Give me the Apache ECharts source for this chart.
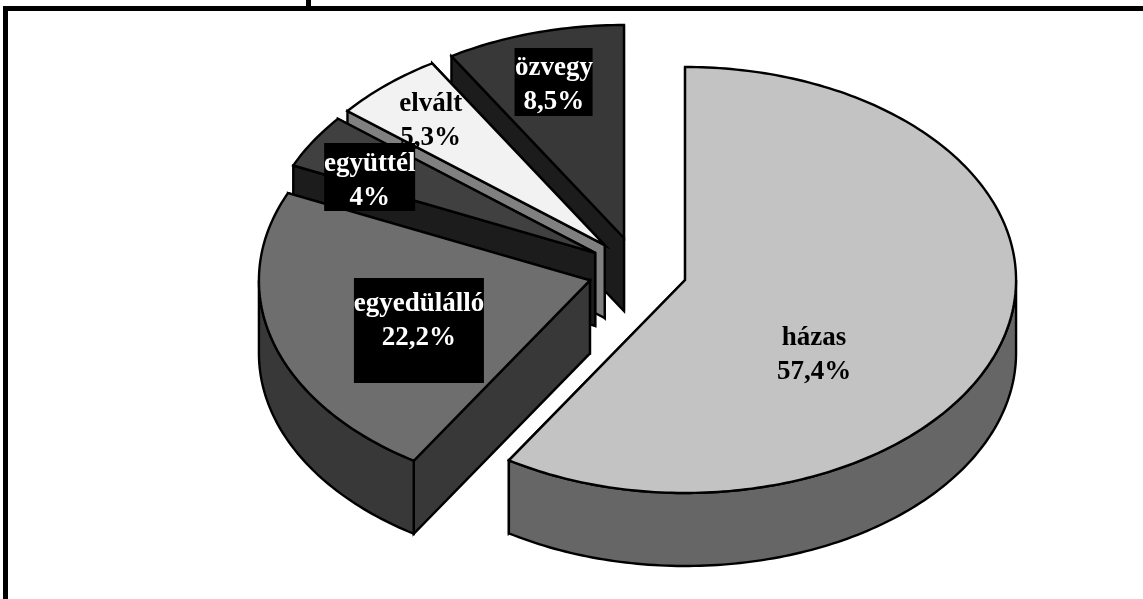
<!DOCTYPE html>
<html>
<head>
<meta charset="utf-8">
<style>html,body{margin:0;padding:0;background:#fff}#c{width:1143px;height:599px}</style>
<script src="https://cdn.jsdelivr.net/npm/echarts@6/dist/echarts.min.js"></script>
</head>
<body>
<div id="c"></div>
<script>
// Data
const categories = ['házas', 'egyedülálló', 'együttél', 'elvált', 'özvegy'];
const values = [57.4, 22.2, 4, 5.3, 8.5];
// Styles
const topColors = ['#c3c3c3', '#6e6e6e', '#404040', '#f2f2f2', '#383838'];
const wallColors = ['#666666', '#383838', '#1c1c1c', '#808080', '#1c1c1c'];
const labelColors = ['#000', '#fff', '#fff', '#000', '#fff'];
// Label anchor relative to the slice apex
const labelDx = [129, -171, -225.5, -174, -70];
const labelDy = [75.5, 41, -71.8, -124.5, -153];
// Label backing boxes relative to the slice apex: dx, dy, width, height
const labelBoxes = [null, [-236, -2.5, 130, 105], [-271, -109.8, 91, 68], null, [-109.4, -190, 78, 68]];
// Layout
const cx = 637.4, cy = 270.6, rx = 331, ry = 213, depth = 73;
const explodeX = 49.6, explodeY = 33.9;

const total = values.reduce((a, b) => a + b, 0);
const slices = [];
let acc = 0;
values.forEach(v => {
  const a0 = acc / total * 2 * Math.PI;
  acc += v;
  const a1 = acc / total * 2 * Math.PI;
  const m = (a0 + a1) / 2;
  slices.push({ a0, a1, ax: cx + explodeX * Math.sin(m), ay: cy - explodeY * Math.cos(m) });
});

function arc(s, a0, a1, dz) {
  const n = Math.max(8, Math.ceil((a1 - a0) * 180 / Math.PI));
  const pts = [];
  for (let i = 0; i <= n; i++) {
    const a = a0 + (a1 - a0) * i / n;
    pts.push([s.ax + rx * Math.sin(a), s.ay - ry * Math.cos(a) + dz]);
  }
  return pts;
}
function poly(points, fill) {
  return { type: 'polygon', shape: { points }, style: { fill, stroke: '#000', lineWidth: 2.4, lineJoin: 'miter' } };
}
function renderSlice(params, api) {
  const i = api.value(0), s = slices[i];
  const t = arc(s, s.a0, s.a1, 0), b = arc(s, s.a0, s.a1, depth);
  const apex = [s.ax, s.ay], apexB = [s.ax, s.ay + depth];
  const children = [
    poly([apex, t[t.length - 1], b[b.length - 1], apexB], wallColors[i]),
    poly([apex, t[0], b[0], apexB], wallColors[i])
  ];
  // The outer wall only shows on the near half of the ellipse
  const w0 = Math.max(s.a0, Math.PI / 2), w1 = Math.min(s.a1, 3 * Math.PI / 2);
  if (w1 > w0) {
    children.push(poly(arc(s, w0, w1, 0).concat(arc(s, w0, w1, depth).reverse()), wallColors[i]));
  }
  children.push(poly([apex].concat(t), topColors[i]));
  return { type: 'group', children };
}
function renderLabel(params, api) {
  const i = api.value(0), s = slices[i];
  const children = [];
  const box = labelBoxes[i];
  if (box) {
    children.push({ type: 'rect',
      shape: { x: s.ax + box[0], y: s.ay + box[1], width: box[2], height: box[3] },
      style: { fill: '#000' } });
  }
  children.push({ type: 'text', style: {
    x: s.ax + labelDx[i], y: s.ay + labelDy[i],
    text: categories[i] + '\n' + String(values[i]).replace('.', ',') + '%',
    align: 'center', verticalAlign: 'middle',
    font: 'bold 27px "Liberation Serif", serif', lineHeight: 34,
    fill: labelColors[i]
  }});
  return { type: 'group', children };
}
const drawOrder = categories.map((c, i) => [categories.length - 1 - i]);
const chart = echarts.init(document.getElementById('c'), null, { renderer: 'canvas' });
chart.setOption({
  animation: false,
  backgroundColor: '#fff',
  graphic: [
    { type: 'rect', shape: { x: 3, y: 6, width: 5, height: 593 }, style: { fill: '#000' }, silent: true },
    { type: 'rect', shape: { x: 3, y: 6, width: 1140, height: 5 }, style: { fill: '#000' }, silent: true },
    { type: 'rect', shape: { x: 306, y: 0, width: 5, height: 6 }, style: { fill: '#000' }, silent: true }
  ],
  series: [
    { type: 'custom', coordinateSystem: 'none', silent: true, z: 2, renderItem: renderSlice, data: drawOrder },
    { type: 'custom', coordinateSystem: 'none', silent: true, z: 3, renderItem: renderLabel, data: drawOrder }
  ]
});
</script>
</body>
</html>
